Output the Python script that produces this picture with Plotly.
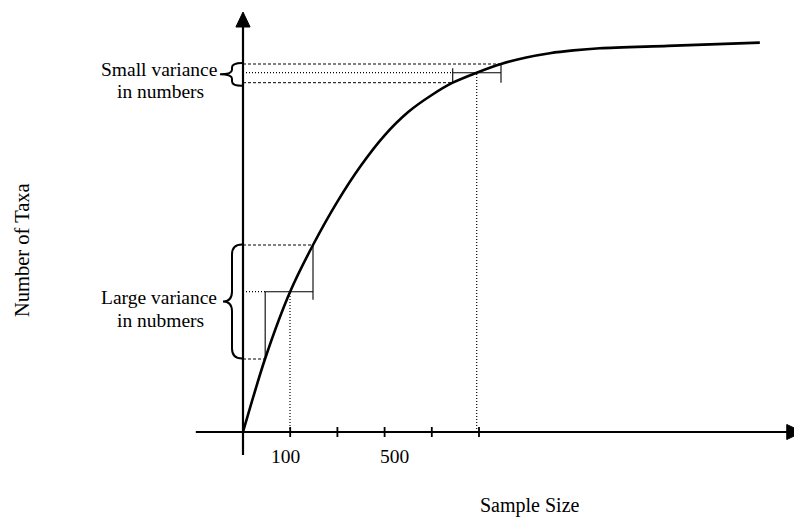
import plotly.graph_objects as go

# ---- data (schematic units: one x unit = one tick interval) ----
curve_x = [0.0, 0.466, 0.996, 1.483, 2.0, 2.5, 3.0, 3.5, 4.0, 4.443, 4.951, 5.466,
           6.0, 6.5, 7.0, 7.56, 9.0, 10.95]
curve_y = [0.0, 7.3, 14.0, 18.7, 23.04, 26.65, 29.67, 32.0, 33.7, 34.93, 35.93, 36.8,
           37.45, 37.88, 38.16, 38.37, 38.61, 38.94]

tick_pos = [1, 2, 3, 4, 5]
tick_labels = ["100", "", "500", "", ""]

# sampling effort points: lower / centre / upper estimate on the curve
low_effort_x = [0.47, 0.996, 1.483]
low_effort_y = [7.3, 14.03, 18.7]
high_effort_x = [4.443, 4.951, 5.466]
high_effort_y = [34.93, 35.93, 36.8]

x_range = [-5.1483, 11.6737]
y_range = [-8.5, 43.2]

BLACK = "#000000"
FONT = "Liberation Serif, Times New Roman, serif"
FS = 19.5

fig = go.Figure()

# rarefaction curve
fig.add_trace(go.Scatter(x=curve_x, y=curve_y, mode="lines",
                         line=dict(color=BLACK, width=2.6, shape="spline", smoothing=0.8),
                         hoverinfo="skip"))

shapes = []


def seg(x0, y0, x1, y1, width=1.2, dash="solid"):
    shapes.append(dict(type="line", xref="x", yref="y", x0=x0, y0=y0, x1=x1, y1=y1,
                       line=dict(color=BLACK, width=width, dash=dash)))


DASH = "3px,2px"
DOT = "1px,2px"

# axes
seg(-1.0, 0, 11.55, 0, width=2.2)
seg(0, -2.3, 0, 40.6, width=2.2)
# arrow heads
shapes.append(dict(type="path", xref="x", yref="y",
                   path="M 11.52,-0.75 L 11.86,0 L 11.52,0.75 Z",
                   fillcolor=BLACK, line=dict(color=BLACK, width=1)))
shapes.append(dict(type="path", xref="x", yref="y",
                   path="M -0.150,40.5 L 0,42.0 L 0.150,40.5 Z",
                   fillcolor=BLACK, line=dict(color=BLACK, width=1)))
# ticks
for t in tick_pos:
    seg(t, -0.5, t, 0.5, width=1.8)


def variance_group(gx, gy, ov_left, ov_right):
    lo_x, mid_x, hi_x = gx
    lo_y, mid_y, hi_y = gy
    # guide lines back to the y axis
    seg(0, hi_y, hi_x, hi_y, width=1, dash=DASH)
    seg(0, lo_y, lo_x, lo_y, width=1, dash=DASH)
    seg(0, mid_y, lo_x, mid_y, width=1.2, dash=DOT)
    # guide line down to the x axis
    seg(mid_x, 0, mid_x, mid_y, width=1.2, dash=DOT)
    # range bar
    seg(lo_x, mid_y, hi_x, mid_y, width=1.1)
    seg(lo_x, lo_y, lo_x, mid_y + ov_left, width=1.1)
    seg(hi_x, hi_y, hi_x, mid_y - ov_right, width=1.1)


variance_group(low_effort_x, low_effort_y, 0.0, 0.8)
variance_group(high_effort_x, high_effort_y, 0.45, 1.0)


def brace(y_lo, y_hi, tip_x, r):
    spine = -0.233
    end = -0.02
    mid = (y_lo + y_hi) / 2
    p = (f"M {end},{y_hi} Q {spine},{y_hi} {spine},{y_hi - r} "
         f"L {spine},{mid + r} Q {spine},{mid} {tip_x},{mid} "
         f"Q {spine},{mid} {spine},{mid - r} "
         f"L {spine},{y_lo + r} Q {spine},{y_lo} {end},{y_lo}")
    shapes.append(dict(type="path", xref="x", yref="y", path=p,
                       line=dict(color=BLACK, width=2)))


brace(min(low_effort_y) + 0.05, max(low_effort_y) + 0.05, -0.424, 1.0)
brace(min(high_effort_y) - 0.3, max(high_effort_y) + 0.1, -0.487, 0.45)

annotations = []


def text(x, y, s, xref="x", yref="y", angle=0, xshift=0, size=FS):
    annotations.append(dict(x=x, y=y, xref=xref, yref=yref, text=s, showarrow=False,
                            textangle=angle, xanchor="center", yanchor="middle",
                            xshift=xshift, font=dict(family=FONT, size=size, color=BLACK)))


# tick labels
shifts = {"100": -5, "500": 10}
for t, lab in zip(tick_pos, tick_labels):
    if lab:
        text(t, -2.4, lab, xshift=shifts[lab])

text(-1.78, 36.3, "Small variance")
text(-1.74, 34.1, "in numbers")
text(-1.78, 13.5, "Large variance")
text(-1.74, 11.2, "in nubmers")

text(0.0277, 1 - 250 / 517, "Number of Taxa", xref="paper", yref="paper", angle=-90, size=20.5)
text(0.6675, 0.0232, "Sample Size", xref="paper", yref="paper", size=20)

fig.update_layout(
    width=794, height=517,
    margin=dict(l=0, r=0, t=0, b=0),
    paper_bgcolor="white", plot_bgcolor="white",
    showlegend=False,
    xaxis=dict(range=x_range, visible=False, fixedrange=True),
    yaxis=dict(range=y_range, visible=False, fixedrange=True),
    shapes=shapes, annotations=annotations,
)

fig.write_html("out.html")
